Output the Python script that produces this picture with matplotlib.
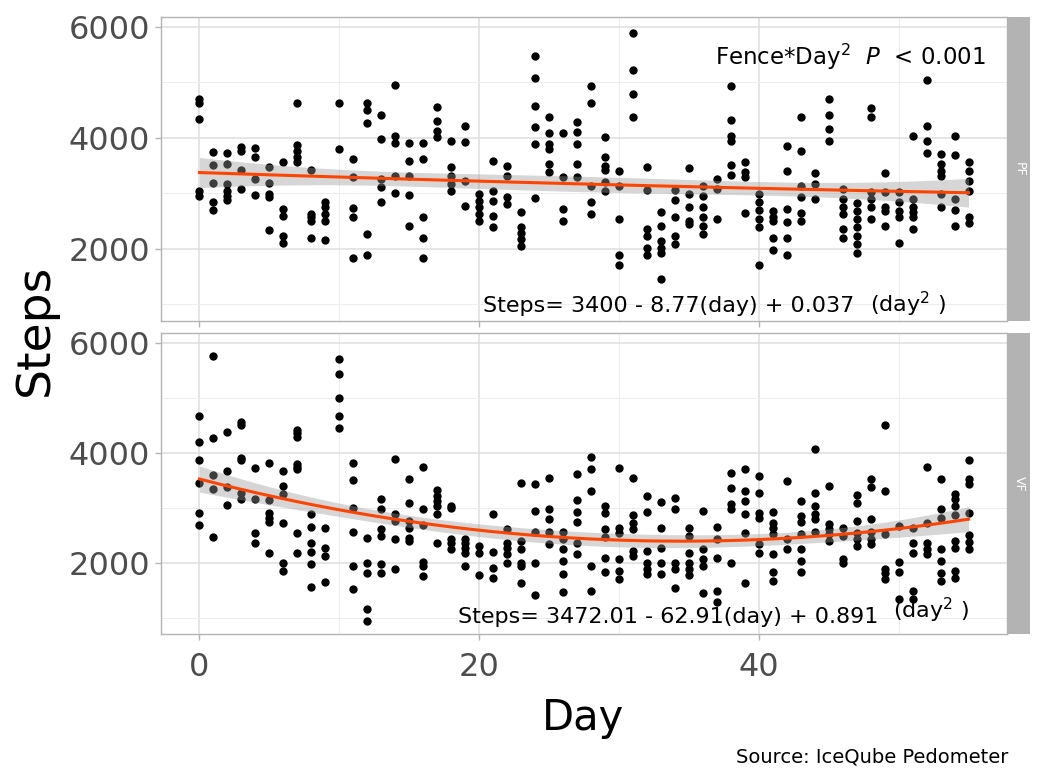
import numpy as np
import matplotlib
matplotlib.use('Agg')
import matplotlib.pyplot as plt

plt.rcParams['font.family'] = ['DejaVu Sans']
plt.rcParams['mathtext.fontset'] = 'dejavusans'

# steps per day (day 0..55)
pf_steps = [
    [4705, 4627, 4343, 3036, 2958],
    [3741, 3512, 3187, 2849, 2699],
    [3723, 3530, 3169, 3048, 2958, 2880],
    [3843, 3771, 3422, 3078],
    [3819, 3650, 3259, 2976],
    [3482, 3187, 2988, 2928, 2337],
    [3572, 2717, 2584, 2235, 2114],
    [4627, 3880, 3771, 3663, 3560],
    [3422, 2627, 2566, 2494, 2205],
    [2837, 2747, 2627, 2506, 2157],
    [4627, 3801],
    [3620, 3301, 2735, 2578, 1831],
    [4627, 4506, 4265, 2265, 1892],
    [4416, 3982, 3259, 3108, 2837],
    [4946, 4042, 3904, 3319, 3000],
    [3910, 3590, 3319, 2976, 2416],
    [3910, 3620, 2566, 2205, 1831],
    [4566, 4301, 4133, 4012],
    [3952, 3482, 3319, 3169, 3048],
    [4223, 3922, 3229, 2777],
    [2988, 2867, 2747, 2627, 2506],
    [3590, 3048, 2867, 2596, 2386],
    [3500, 3319, 2928, 2807],
    [2657, 2386, 2295, 2175, 2054],
    [5470, 5084, 4584, 4193, 3892, 2910],
    [4386, 4084, 3892, 3801, 3530, 3380],
    [4084, 3301, 2717, 2506],
    [4283, 4102, 3892, 3530, 3301],
    [4928, 4627, 3139, 2837, 2627],
    [4012, 3663, 3500, 3422, 3199, 3048],
    [3410, 3139, 2536, 1892, 1711],
    [5892, 5217, 4783, 4373],
    [3482, 3060, 2355, 2235, 2024, 1892],
    [2657, 2416, 2145, 2024, 1934, 1452],
    [3060, 2880, 2578, 2235, 2084],
    [3458, 2988, 2759, 2506, 2446],
    [3139, 2958, 2747, 2566, 2416, 2277],
    [3259, 3078, 2536],
    [4928, 4325, 4042, 3952, 3518, 3337],
    [3560, 3380, 3301, 2639],
    [2988, 2837, 2699, 2536, 2398, 1711],
    [2675, 2578, 2494, 2193, 1976],
    [3861, 3410, 2717, 2476, 2193, 1892],
    [4386, 3771, 3139, 2940, 2639, 2494],
    [3367, 3169, 2898],
    [4705, 4422, 4163, 3940],
    [3078, 2898, 2747, 2627, 2355, 2193],
    [2819, 2687, 2536, 2386, 2235, 2084, 1934],
    [4542, 4386, 3018, 2898, 2759, 2536],
    [3367, 3018, 2747, 2687, 2416],
    [3018, 2837, 2687, 2566, 2108],
    [4042, 2898, 2759, 2657, 2578, 2355],
    [5036, 4223, 3952, 3723],
    [3711, 3530, 3398, 3319, 2988, 2759],
    [4042, 3699, 2898, 2699, 2416],
    [3560, 3410, 3229, 3048, 2566, 2458],
]

vf_steps = [
    [4667, 4194, 3867, 3455, 2909, 2679],
    [5758, 4273, 3588, 3333, 2473],
    [4376, 3667, 3382, 3042],
    [4558, 4497, 3909, 3867, 3273, 3152],
    [3727, 3164, 2533, 2352],
    [3806, 3139, 2909, 2818, 2739, 2182],
    [3667, 3394, 3242, 2715, 2000, 1848],
    [4412, 4364, 4291, 3788, 3745, 3697, 2533, 2182],
    [2879, 2655, 2364, 2194, 1970, 1564],
    [2636, 2273, 2121, 1648],
    [5709, 5442, 5000, 4667, 4455],
    [3818, 3497, 3000, 2558, 1939, 1527],
    [2455, 1988, 1818, 1152, 939],
    [3152, 2982, 2618, 2485, 1970, 1818],
    [3891, 2879, 2758, 2424, 1879],
    [3515, 3091, 2758, 2636, 2455, 2394],
    [3745, 2982, 2679, 2012, 1939, 1758],
    [3321, 3212, 3121, 3030, 2879, 2352],
    [3030, 3000, 2424, 2364, 2255],
    [2436, 2352, 2273, 2170, 1939],
    [2303, 2182, 1770],
    [2879, 2194, 1909, 1727],
    [2618, 2352, 2273, 2152, 2000],
    [3455, 2394, 2255, 2000, 1939, 1624],
    [3424, 2939, 2558, 1988, 1406],
    [3545, 2982, 2800, 2558, 2333],
    [2558, 2436, 2255, 2030, 1788, 1467],
    [3606, 3139, 2921, 2739, 2352, 2152],
    [3927, 3697, 3303, 1939, 1485],
    [3030, 2909, 2606, 2473, 2091, 1830],
    [3727, 2636, 2545, 2061, 1848, 1709],
    [3545, 2861, 2727, 2606, 2212, 2121],
    [3212, 2921, 2212, 2000, 1879, 1788],
    [3103, 2636, 2273, 2000, 1788],
    [3182, 2970, 2000, 1879, 1545],
    [2636, 2485, 2182, 2000, 1879, 1770],
    [2939, 2242, 2061, 1939, 1455],
    [2655, 2424, 2091, 1485, 1285],
    [3636, 3364, 3061, 2970, 2000],
    [3697, 3303, 3121, 2879, 2533, 1624],
    [3576, 3273, 2909, 2818, 2333, 2182],
    [2921, 2727, 2636, 2515, 2152, 1830, 1667],
    [3485, 2424, 2255],
    [3121, 2848, 2739, 2515, 2242, 2030, 1830],
    [4073, 3273, 3030, 2879, 2788, 2558],
    [3394, 2697, 2606, 2515, 2394],
    [2636, 2485, 2061, 2000],
    [3224, 3091, 2758, 2545, 2424, 2303],
    [3527, 3382, 2800, 2558, 2424, 2333],
    [4497, 3303, 2515, 1879, 1806, 1709],
    [2667, 2012, 1830, 1333],
    [2636, 2364, 2170, 1485, 1333],
    [3745, 2727, 2364, 2242, 2152],
    [3515, 2982, 2818, 2242, 2030, 1818, 1667],
    [3242, 3152, 3030, 2861, 2394, 2273, 1848, 1727],
    [3867, 3515, 3424, 2897, 2497, 2376, 2242],
]

panels = ['PF', 'VF']
eq_main = ['Steps= 3400 - 8.77(day) + 0.037', 'Steps= 3472.01 - 62.91(day) + 0.891']
eq_tail = '(day$^2$ )'


def flatten(steps):
    d, s = [], []
    for day, vals in enumerate(steps):
        d += [day] * len(vals)
        s += vals
    return np.array(d, float), np.array(s, float)


def quad_smooth(x, y, xg):
    # quadratic lm with 95% confidence band (like geom_smooth)
    X = np.column_stack([np.ones_like(x), x, x ** 2])
    beta = np.linalg.lstsq(X, y, rcond=None)[0]
    sigma2 = np.sum((y - X @ beta) ** 2) / (len(y) - 3)
    cov = sigma2 * np.linalg.inv(X.T @ X)
    Xg = np.column_stack([np.ones_like(xg), xg, xg ** 2])
    fit = Xg @ beta
    se = np.sqrt(np.sum((Xg @ cov) * Xg, axis=1))
    return fit, fit - 1.97 * se, fit + 1.97 * se


W, H = 1037, 770
fig = plt.figure(figsize=(W / 100, H / 100), dpi=100)
fig.patch.set_facecolor('white')


def px(x, y):
    return x / W, 1 - y / H


boxes = [(17, 321), (333, 634)]
# pixel positions of the equation pieces (left x, centre y)
main_pos = [(483, 306), (458, 617)]
tail_pos = [(870, 304), (893, 610)]
grey70 = '#B3B3B3'

for i, (steps, name) in enumerate(zip([pf_steps, vf_steps], panels)):
    top, bot = boxes[i]
    ax = fig.add_axes([161 / W, (H - bot) / H, 846 / W, (bot - top) / H])
    x, y = flatten(steps)
    xg = np.linspace(0, 55, 200)
    fit, lo, hi = quad_smooth(x, y, xg)

    ax.scatter(x, y, s=36, color='black', zorder=3, linewidths=0)
    ax.fill_between(xg, lo, hi, color='#999999', alpha=0.4, lw=0, zorder=4)
    ax.plot(xg, fit, color='#FF4500', lw=2.2, zorder=5)

    ax.set_xlim(-2.75, 57.75)
    ax.set_ylim(700, 6180)
    ax.set_xticks([0, 20, 40])
    ax.set_xticks([10, 30, 50], minor=True)
    ax.set_yticks([2000, 4000, 6000])
    ax.set_yticks([1000, 3000, 5000], minor=True)
    ax.grid(True, which='major', color='#DEDEDE', lw=1.1, zorder=0)
    ax.grid(True, which='minor', color='#EDEDED', lw=0.7, zorder=0)
    ax.set_axisbelow(True)
    for sp in ax.spines.values():
        sp.set_color(grey70)
        sp.set_linewidth(1.0)
    ax.tick_params(which='major', colors=grey70, labelcolor='#4D4D4D',
                   labelsize=23, length=4, width=1, pad=4)
    ax.tick_params(axis='x', pad=9)
    ax.tick_params(which='minor', length=0)
    if i == 0:
        ax.tick_params(axis='x', labelbottom=False)

    fig.text(*px(*main_pos[i]), eq_main[i], ha='left', va='center',
             fontsize=16, color='black')
    fig.text(*px(*tail_pos[i]), eq_tail, ha='left', va='center',
             fontsize=16, color='black')

    # facet strip
    sax = fig.add_axes([1008 / W, (H - bot) / H, 22 / W, (bot - top) / H])
    sax.set_facecolor(grey70)
    sax.set_xticks([])
    sax.set_yticks([])
    for sp in sax.spines.values():
        sp.set_visible(False)
    sax.text(0.5, 0.5, name, rotation=-90, ha='center', va='center',
             color='white', fontsize=9, transform=sax.transAxes)

fig.text(*px(715, 57), 'Fence*Day$^2$  $P$  < 0.001', ha='left', va='center',
         fontsize=16.5, color='black')

fig.text(*px(583, 718), 'Day', ha='center', va='center', fontsize=30)
fig.text(*px(35, 330), 'Steps', ha='center', va='center', fontsize=34,
         rotation=90)
fig.text(*px(1008, 757), 'Source: IceQube Pedometer', ha='right',
         va='center', fontsize=14)

fig.savefig('out.png', dpi=100)
